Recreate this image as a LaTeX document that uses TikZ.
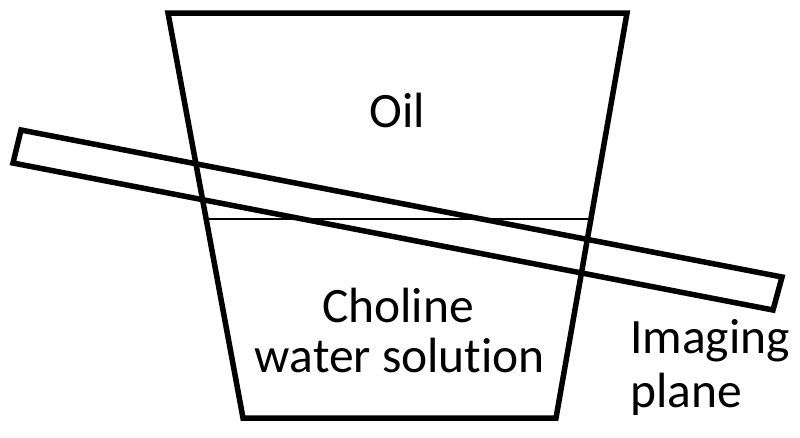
\documentclass[tikz,border=0pt]{standalone}
\usepackage{fontspec}
\setmainfont{Carlito}[Ligatures=NoCommon]
\usetikzlibrary{calc}
\begin{document}
\begin{tikzpicture}[x=1pt,y=-1pt,
  thick line/.style={line width=5.5pt, line join=miter},
  thin line/.style={line width=2pt},
  label text/.style={font=\fontsize{49.5}{52}\selectfont, inner sep=0pt}]
\useasboundingbox (0,0) rectangle (800,437);
% cup
\coordinate (tl) at (168,13);
\coordinate (tr) at (627,13);
\coordinate (br) at (556,418);
\coordinate (bl) at (243,418);
\draw[thick line] (tl) -- (tr) -- (br) -- (bl) -- cycle;
% interface
\coordinate (il) at ($(tl)!0.5086!(bl)$);
\coordinate (ir) at ($(tr)!0.5086!(br)$);
\draw[thin line] (il) -- (ir);
% imaging plane
\coordinate (p1) at (21,130);
\coordinate (p2) at (782,277);
\coordinate (p3) at (773,310);
\coordinate (p4) at (13,163);
\draw[thick line] (p1) -- (p2) -- (p3) -- (p4) -- cycle;
% labels
\node[label text, anchor=base] (oil) at (397,127) {Oil};
\node[label text, anchor=base] (chol) at (398,322) {Choline};
\node[label text, anchor=base] (water) at (400,372) {water solution};
\node[label text, anchor=base west] (img) at (630,353) {Imaging};
\node[label text, anchor=base west] (plane) at (630,407) {plane};
\end{tikzpicture}
\end{document}
